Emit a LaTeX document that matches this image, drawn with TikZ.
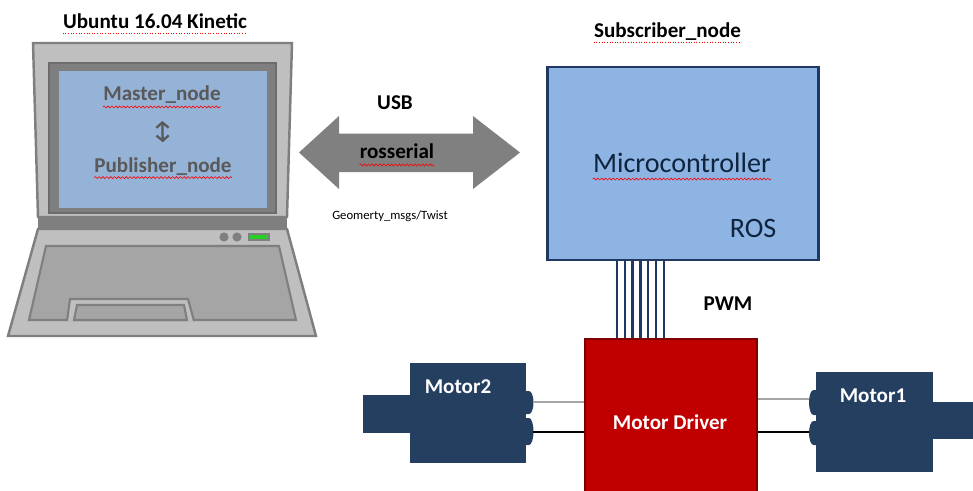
\documentclass[tikz,border=0pt]{standalone}
\usepackage{fontspec}
\setmainfont{Carlito}
\usetikzlibrary{arrows.meta, decorations.pathmorphing}

\definecolor{lapdark}{HTML}{7F7F7F}
\definecolor{laplight}{HTML}{BFBFBF}
\definecolor{lapmid}{HTML}{A5A5A5}
\definecolor{screenblue}{HTML}{95B3D7}
\definecolor{mcublue}{HTML}{8DB4E2}
\definecolor{navy}{HTML}{1F3864}
\definecolor{motorblue}{HTML}{243F60}
\definecolor{drvred}{HTML}{C00000}
\definecolor{drvdark}{HTML}{7F0000}
\definecolor{linkgray}{HTML}{808080}
\definecolor{ledgreen}{HTML}{26D026}
\definecolor{screentext}{HTML}{595959}
\definecolor{mcutext}{HTML}{0F243E}

\newcommand\pxu{0.02cm}

\begin{document}
\begin{tikzpicture}[
    x=\pxu, y=-\pxu, % one unit = one pixel, y down
    heading/.style={font=\fontsize{12}{14}\selectfont\bfseries, inner sep=0pt, text height=8.4pt, text depth=1.8pt},
    screentxt/.style={heading, text=screentext},
    whitetxt/.style={heading, text=white},
    mcutxt/.style={font=\fontsize{16}{19}\selectfont, text=mcutext, inner sep=0pt, text height=11.2pt, text depth=2.4pt},
    smalltxt/.style={font=\fontsize{7.2}{8}\selectfont, inner sep=0pt},
    lapframe/.style={fill=laplight, draw=lapdark, line width=1.4pt},
    keys/.style={fill=lapmid, draw=lapdark, line width=1.2pt},
    mcubox/.style={draw=navy, fill=mcublue, line width=1.7pt},
    drvbox/.style={draw=drvdark, fill=drvred, line width=1.4pt},
    motor/.style={fill=motorblue, inner sep=0pt},
    bus/.style={draw=navy, line width=1.3pt},
    updown/.style={<->, >={Straight Barb[length=3pt, width=7pt]}, line width=1.3pt, draw=screentext},
    spell/.style={draw=red, line width=0.35pt, decorate, decoration={snake, amplitude=0.55pt, segment length=2.2pt}},
    spelldot/.style={draw=red, line width=0.5pt, densely dotted}
]
  \clip (0,0) rectangle (973,490);

  % --- LAPTOP ---
  \filldraw[lapframe] (33,43) -- (292,43) -- (287,217) -- (38,217) -- cycle;
  \filldraw[fill=lapdark, draw=lapdark!85!black, line width=0.6pt] (49,63) rectangle (276,213);
  \node[fill=screenblue, inner sep=0pt, minimum width=208*\pxu, minimum height=137*\pxu] (screen) at (163,139.5) {};
  \fill[lapdark] (38,217) rectangle (287,229);
  \filldraw[lapframe] (38,229) -- (287,229) -- (316,336) -- (8,336) -- cycle;
  \filldraw[keys] (46,246) -- (279,246) -- (296,320) -- (29,320) -- cycle;
  % touchpad
  \fill[laplight] (70,299) -- (188,299) -- (194,321) -- (67,321) -- cycle;
  \draw[lapdark, line width=1.2pt] (67,321) -- (70,299) -- (188,299) -- (194,321);
  \filldraw[keys] (77,305) -- (184,305) -- (187,320) -- (74,320) -- cycle;
  % buttons and led
  \fill[lapdark] (224,237) circle[radius=2.6pt] (237,237) circle[radius=2.6pt];
  \filldraw[fill=ledgreen, draw=lapdark, line width=1pt] (249,234) rectangle (269,240);

  \node[heading] (ubuntu) at (155,23) {Ubuntu 16.04 Kinetic};
  \node[screentxt] (master) at (162,95) {Master\_node};
  \node[screentxt] (publisher) at (163,166.5) {Publisher\_node};
  \draw[updown, shorten <=9.5pt, shorten >=8.5pt] (master.south) -- (publisher.north);

  % --- USB LINK ---
  \fill[linkgray] (299,152.5) -- (339,116) -- (339,133.5) -- (473,133.5) -- (473,116)
    -- (520,152.5) -- (473,189) -- (473,172) -- (339,172) -- (339,189) -- cycle;
  \node[heading] (usb) at (395,104) {USB};
  \node[heading] (rosserial) at (397,153) {rosserial};
  \node[smalltxt] (twist) at (390,216.5) {Geomerty\_msgs/Twist};

  % --- MICROCONTROLLER ---
  \node[mcubox, minimum width=271*\pxu, minimum height=193*\pxu] (mcu) at (682.5,163.5) {};
  \node[heading] (subscriber) at (667.5,32) {Subscriber\_node};
  \node[mcutxt] (mcuname) at (682,165) {Microcontroller};
  \node[mcutxt] (ros) at (753,229.5) {ROS};

  % --- MOTOR DRIVER ---
  \node[drvbox, minimum width=172*\pxu, minimum height=171*\pxu] (drv) at (671,424.5) {};
  \node[whitetxt] (drvname) at (670,424) {Motor Driver};
  \foreach \i in {0,...,6} {
    \coordinate (b\i) at (617+7.8*\i,300);
    \draw[bus] (b\i |- mcu.south) -- (b\i |- drv.north);
  }
  \node[heading] (pwm) at (728,304.5) {PWM};

  % --- MOTORS ---
  \fill[motorblue] (363,395) rectangle (412,433);
  \node[motor, minimum width=116*\pxu, minimum height=100*\pxu] (m2) at (468,413) {};
  \fill[motorblue] (522,391) -- (529,391) arc[start angle=-90, end angle=90, x radius=4.5, y radius=11.5] -- (522,414) -- cycle;
  \fill[motorblue] (522,418) -- (529,418) arc[start angle=-90, end angle=90, x radius=4.5, y radius=13.5] -- (522,445) -- cycle;
  \node[whitetxt] (m2name) at (458,388) {Motor2};
  \coordinate (m2a) at (533,402);
  \coordinate (m2b) at (533,432);

  \fill[motorblue] (931,402) rectangle (975,439);
  \node[motor, minimum width=117*\pxu, minimum height=100*\pxu] (m1) at (874.5,422) {};
  \fill[motorblue] (820,390) -- (813.5,390) arc[start angle=-90, end angle=-270, x radius=4.5, y radius=12.5] -- (820,415) -- cycle;
  \fill[motorblue] (820,421) -- (813.5,421) arc[start angle=-90, end angle=-270, x radius=4.5, y radius=12] -- (820,445) -- cycle;
  \node[whitetxt] (m1name) at (873,397) {Motor1};
  \coordinate (m1a) at (809,399);
  \coordinate (m1b) at (809,432);

  \draw[lapmid, line width=1.3pt] (m2a) -- (m2a -| drv.west);
  \draw[black, line width=1pt] (m2b) -- (m2b -| drv.west);
  \draw[lapmid, line width=1.3pt] (m1a) -- (m1a -| drv.east);
  \draw[black, line width=1pt] (m1b) -- (m1b -| drv.east);

  % spelling marks
  \draw[spelldot] ([yshift=-0.5pt]ubuntu.south west) -- ([yshift=-0.5pt]ubuntu.south east);
  \draw[spelldot] ([yshift=-0.5pt]subscriber.south west) -- ([yshift=-0.5pt]subscriber.south east);
  \draw[spell] ([yshift=-1.5pt]master.south west) -- ([yshift=-1.5pt]master.south east);
  \draw[spell] ([yshift=-1pt]publisher.south west) -- ([yshift=-1pt]publisher.south east);
  \draw[spell] ([yshift=-1.5pt]rosserial.south west) -- ([yshift=-1.5pt]rosserial.south east);
  \draw[spell] ([yshift=-1pt]mcuname.south west) -- ([yshift=-1pt]mcuname.south east);
\end{tikzpicture}
\end{document}
